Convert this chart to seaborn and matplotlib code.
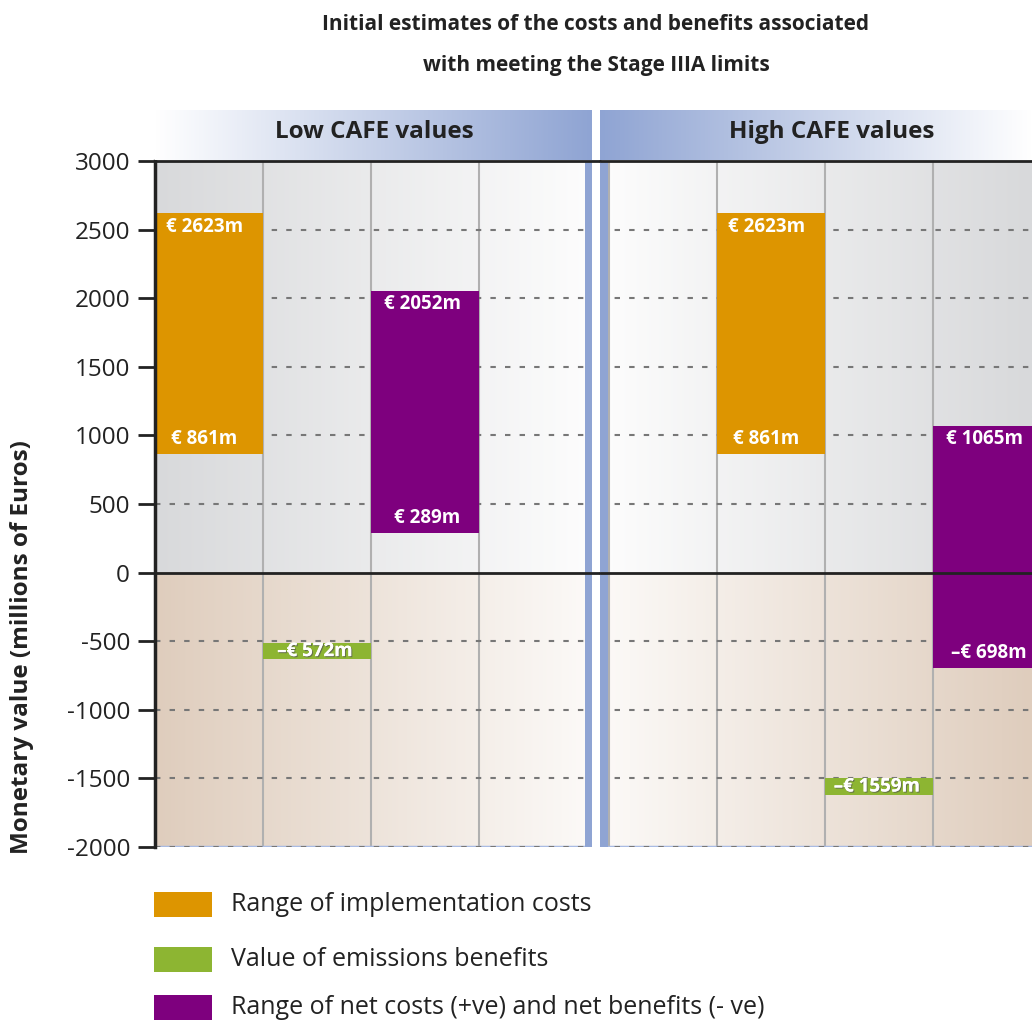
import numpy as np
import matplotlib
matplotlib.use("Agg")
import matplotlib.pyplot as plt
from matplotlib.patches import Rectangle
from matplotlib.colors import to_rgb
import matplotlib.patheffects as pe
import seaborn as sns

# ---- data (millions of euros) ----
panels = ["Low CAFE values", "High CAFE values"]
impl_low = [861, 861]          # lower end of implementation cost range
impl_high = [2623, 2623]       # upper end of implementation cost range
emission_benefit = [-572, -1559]
net_low = [289, -698]          # lower end of net cost range
net_high = [2052, 1065]        # upper end of net cost range
impl_col = [0, 1]
emission_col = [1, 2]
net_col = [2, 3]
y_ticks = [3000, 2500, 2000, 1500, 1000, 500, 0, -500, -1000, -1500, -2000]
legend_labels = ["Range of implementation costs",
                 "Value of emissions benefits",
                 "Range of net costs (+ve) and net benefits (- ve)"]

ORANGE = "#dd9500"
GREEN = "#8db532"
PURPLE = "#7e007e"
BLUE = "#8fa4d3"
GRAY_DARK = "#d8d9db"
BEIGE_DARK = "#dfcdbd"
INK = "#222222"

sns.set_theme(style="white")
plt.rcParams["font.family"] = ["Open Sans", "DejaVu Sans"]

W, H = 1032, 1021
fig = plt.figure(figsize=(W / 100, H / 100), dpi=100)


def fx(x):
    return x / W


def fy(y):
    return 1 - y / H


def gradient(c_from, c_to, n=256):
    a = np.array(to_rgb(c_from))
    b = np.array(to_rgb(c_to))
    t = np.linspace(0, 1, n)[:, None]
    return (a + (b - a) * t)[None, :, :]


top_px, bot_px = 161, 847
ax1 = fig.add_axes([fx(155), fy(bot_px), (592 - 155) / W, (bot_px - top_px) / H])
ax2 = fig.add_axes([fx(600), fy(bot_px), (1032 - 600) / W, (bot_px - top_px) / H],
                   sharey=ax1)
ax1.set_xlim(0, 437 / 108)
ax2.set_xlim(-9 / 108, -9 / 108 + 432 / 108)
ax1.set_ylim(-2000, 3000)

dash = (0, (2.6, 4.4))

for i, ax in enumerate([ax1, ax2]):
    x0, x1 = ax.get_xlim()
    if i == 0:
        up = gradient(GRAY_DARK, "#fdfdfd")
        lo = gradient(BEIGE_DARK, "#fcfaf8")
    else:
        up = gradient("#fdfdfd", GRAY_DARK)
        lo = gradient("#fcfaf8", BEIGE_DARK)
    ax.imshow(up, extent=(x0, x1, 0, 3000), aspect="auto", zorder=0)
    ax.imshow(lo, extent=(x0, x1, -2000, 0), aspect="auto", zorder=0)
    ax.set_xlim(x0, x1)
    ax.set_ylim(-2000, 3000)

    # column separators
    seps = [1, 2, 3] if i == 0 else [0, 1, 2, 3]
    for s in seps:
        ax.axvline(s, color="#b0b0b0", lw=1.5, zorder=1.5)

    # light blue bottom edge and dashed gridlines
    ax.axhline(-2000, color="#a9bbe3", lw=2.5, zorder=1.6)
    for v in y_ticks:
        if v in (0, 3000):
            continue
        ax.axhline(v, color="#777777", lw=1.5, ls=dash, zorder=1.7)

    # blue separator strip between panels
    if i == 0:
        ax.axvspan(3.98, x1, color=BLUE, zorder=2, lw=0)
    else:
        ax.axvspan(x0, -0.01, color=BLUE, zorder=2, lw=0)

    # bars
    ax.bar(impl_col[i], impl_high[i] - impl_low[i], bottom=impl_low[i],
           width=1, align="edge", color=ORANGE, zorder=3, lw=0)
    ax.bar(emission_col[i], 120, bottom=emission_benefit[i] - 60,
           width=1, align="edge", color=GREEN, zorder=3, lw=0)
    ax.bar(net_col[i], net_high[i] - net_low[i], bottom=net_low[i],
           width=1 if i == 0 else x1 - net_col[i], align="edge",
           color=PURPLE, zorder=3, lw=0)

    lab = dict(color="white", fontsize=13.5, fontweight="bold", ha="center",
               va="center", textcoords="offset pixels", zorder=5)

    def euro(v):
        return f"€ {v}m" if v >= 0 else f"–€ {abs(v)}m"

    ax.annotate(euro(impl_high[i]), (impl_col[i] + 0.5, impl_high[i]),
                xytext=(-4, -14), **lab)
    ax.annotate(euro(impl_low[i]), (impl_col[i] + 0.5, impl_low[i]),
                xytext=(-5, 15), **lab)
    ax.annotate(euro(net_high[i]), (net_col[i] + 0.5, net_high[i]),
                xytext=(-2, -13), **lab)
    ax.annotate(euro(net_low[i]), (net_col[i] + 0.5, net_low[i]),
                xytext=(2, 15), **lab)
    ax.annotate(euro(emission_benefit[i]),
                (emission_col[i] + 0.5, emission_benefit[i]),
                xytext=(-2, 0),
                path_effects=[pe.withSimplePatchShadow(offset=(0.8, -0.8),
                                                       shadow_rgbFace="#555555",
                                                       alpha=0.7),
                              pe.Normal()],
                **lab)

    # solid lines at zero and at the top
    span = 445 / 437 if i == 0 else 1
    ax.axhline(0, xmin=0, xmax=span, color=INK, lw=2, zorder=4, clip_on=False)
    ax.axhline(3000, xmin=0, xmax=span, color=INK, lw=2, zorder=4, clip_on=False)

    ax.set_xticks([])
    ax.grid(False)
    for sp in ax.spines.values():
        sp.set_visible(False)

ax1.spines["left"].set_visible(True)
ax1.spines["left"].set_color(INK)
ax1.spines["left"].set_linewidth(2.5)
ax1.spines["left"].set_zorder(6)
ax1.set_yticks(y_ticks)
ax1.set_yticklabels([f"{v}" if v >= 0 else f"-{abs(v)}" for v in y_ticks])
ax1.tick_params(axis="y", left=True, length=12, width=2, color=INK, pad=6,
                labelsize=17.5, labelcolor=INK)
ax2.tick_params(axis="y", left=False, labelleft=False)

# panel headers with blue gradient bands
h1 = fig.add_axes([fx(155), fy(160), 437 / W, 50 / H])
h1.imshow(gradient("#ffffff", BLUE), extent=(0, 1, 0, 1), aspect="auto")
h2 = fig.add_axes([fx(600), fy(160), 432 / W, 50 / H])
h2.imshow(gradient(BLUE, "#ffffff"), extent=(0, 1, 0, 1), aspect="auto")
for h, name, cx in [(h1, panels[0], (374 - 155) / 437), (h2, panels[1], (832 - 600) / 432)]:
    h.set_xlim(0, 1)
    h.set_ylim(0, 1)
    h.axis("off")
    h.text(cx, 0.56, name, ha="center", va="center", fontsize=17.5,
           fontweight="bold", color=INK)

# title
fig.text(fx(596), fy(25), "Initial estimates of the costs and benefits associated",
         ha="center", va="center", fontsize=15, fontweight="bold", color=INK)
fig.text(fx(596), fy(65), "with meeting the Stage IIIA limits",
         ha="center", va="center", fontsize=15, fontweight="bold", color=INK)

# y-axis title
fig.text(fx(22), fy(647), "Monetary value (millions of Euros)", rotation=90,
         ha="center", va="center", fontsize=17.5, fontweight="bold", color=INK)

# legend
for k, (lbl, col) in enumerate(zip(legend_labels, [ORANGE, GREEN, PURPLE])):
    yc = [904, 959, 1007][k]
    fig.add_artist(Rectangle((fx(154), fy(yc + 12.5)), 58 / W, 25 / H,
                             transform=fig.transFigure, color=col, lw=0))
    fig.text(fx(231), fy(yc), lbl, ha="left", va="center", fontsize=18,
             color=INK)

fig.savefig("out.png", dpi=100)
